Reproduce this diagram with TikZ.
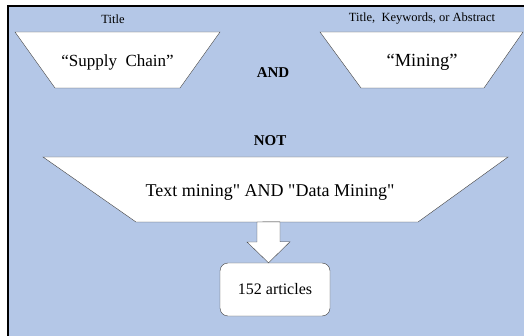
\documentclass[tikz,border=0pt]{standalone}
\usepackage{fontspec}
\setmainfont{Liberation Serif}[Ligatures=TeXOff]
\usetikzlibrary{positioning}
\definecolor{panelblue}{HTML}{B4C7E7}
\definecolor{edgegray}{HTML}{404040}

\begin{document}
\begin{tikzpicture}[
  x=1pt, y=-1pt,
  node distance=8pt,
  funnel/.style={draw=edgegray, fill=white, line join=miter},
  term/.style={inner sep=0pt, font=\fontsize{17}{20}\selectfont},
  field/.style={inner sep=0pt, font=\fontsize{12.5}{14}\selectfont},
  oper/.style={inner sep=0pt, font=\fontsize{15}{17}\selectfont\bfseries},
  outcome/.style={draw=edgegray, fill=white, rounded corners=8pt, minimum width=110pt, minimum height=53pt, inner sep=0pt, font=\fontsize{16}{18}\selectfont},
  hollow/.style={draw=edgegray, fill=white, line join=miter}
]
\useasboundingbox (0,0) rectangle (524,336);
\fill[panelblue] (8,6) rectangle (524,336);
\draw[line width=1.5pt] (8,336) -- (8,6) -- (524,6);

% search terms
\draw[funnel] (15,32) -- (220,32) -- (180,88) -- (55,88) -- cycle;
\draw[funnel] (320,32) -- (523,32) -- (484,88) -- (361,88) -- cycle;
\node[term] (supply) at (117.5,62) {“Supply\ \ Chain”};
\node[term, font=\fontsize{18.5}{21}\selectfont] (mining) at (422,62) {“Mining”};
\node[field] (ttl) at (113,19) {Title};
\node[field] (tka) at (422,19) {Title,\ \ Keywords, or Abstract};
\node[oper] (and) at (273,73) {AND};

% exclusion
\node[oper] (not) at (270,141) {NOT};
\draw[funnel] (43,157) -- (508,157) -- (418,222) -- (136,222) -- cycle;
\node[term, font=\fontsize{18}{21}\selectfont] (filter) at (270,192) {Text mining" AND "Data Mining"};

% result
\node[outcome] (result) at (275,289.5) {152 articles};
\coordinate (atail) at (268.5,222);
\draw[hollow] (atail) ++(-11.5,0) -- ++(0,20) -- ++(-10,0) -- (atail |- result.north) -- ++(21.5,-21) -- ++(-10,0) -- ++(0,-20) -- cycle;
\end{tikzpicture}
\end{document}
